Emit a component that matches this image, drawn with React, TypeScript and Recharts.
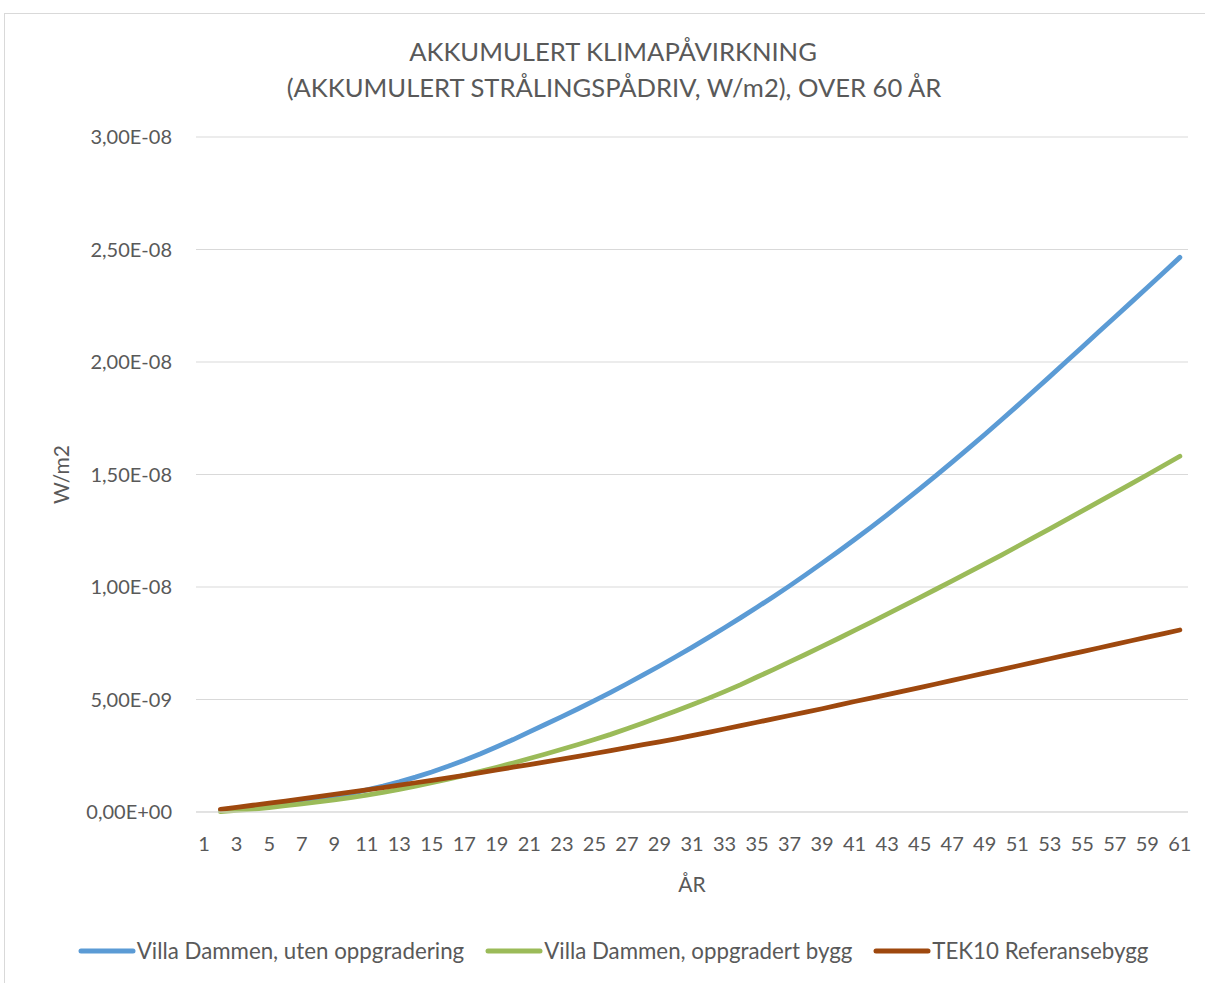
import { LineChart, Line, XAxis, YAxis, CartesianGrid, Legend } from "recharts";

// values are in units of 1e-9 W/m2, year 1 has no value
const years = [
  1, 2, 3, 4, 5, 6, 7, 8, 9, 10, 11, 12, 13, 14, 15, 16, 17, 18, 19, 20, 21,
  22, 23, 24, 25, 26, 27, 28, 29, 30, 31, 32, 33, 34, 35, 36, 37, 38, 39, 40,
  41, 42, 43, 44, 45, 46, 47, 48, 49, 50, 51, 52, 53, 54, 55, 56, 57, 58, 59,
  60, 61,
];

const utenOppgradering = [
  null, 0.05, 0.11, 0.18, 0.26, 0.35, 0.45, 0.56, 0.68, 0.82, 0.98, 1.15,
  1.34, 1.55, 1.78, 2.03, 2.3, 2.59, 2.9, 3.22, 3.56, 3.9, 4.24, 4.59, 4.95,
  5.32, 5.7, 6.09, 6.49, 6.9, 7.32, 7.75, 8.19, 8.64, 9.1, 9.57, 10.05, 10.55,
  11.06, 11.58, 12.11, 12.65, 13.21, 13.78, 14.36, 14.95, 15.55, 16.16, 16.78,
  17.41, 18.05, 18.7, 19.35, 20.01, 20.67, 21.33, 21.99, 22.65, 23.31, 23.98,
  24.65,
];

const oppgradertBygg = [
  null, 0.02, 0.07, 0.13, 0.2, 0.28, 0.36, 0.45, 0.54, 0.64, 0.75, 0.87, 1.01,
  1.15, 1.3, 1.46, 1.63, 1.81, 1.99, 2.18, 2.38, 2.58, 2.79, 3.0, 3.22, 3.45,
  3.7, 3.96, 4.22, 4.49, 4.77, 5.05, 5.35, 5.66, 6.0, 6.33, 6.67, 7.01, 7.36,
  7.71, 8.07, 8.43, 8.79, 9.16, 9.53, 9.9, 10.27, 10.65, 11.03, 11.41, 11.8,
  12.19, 12.58, 12.98, 13.38, 13.78, 14.18, 14.58, 14.99, 15.4, 15.81,
];

const referansebygg = [
  null, 0.12, 0.21, 0.3, 0.39, 0.48, 0.58, 0.68, 0.78, 0.88, 0.98, 1.08, 1.19,
  1.3, 1.41, 1.52, 1.63, 1.75, 1.87, 1.99, 2.11, 2.23, 2.35, 2.47, 2.6, 2.73,
  2.86, 2.99, 3.12, 3.25, 3.39, 3.54, 3.69, 3.84, 3.99, 4.14, 4.29, 4.44, 4.59,
  4.75, 4.91, 5.06, 5.22, 5.37, 5.53, 5.69, 5.85, 6.01, 6.17, 6.33, 6.49, 6.65,
  6.81, 6.97, 7.13, 7.29, 7.45, 7.61, 7.77, 7.93, 8.09,
];

const seriesNames = [
  "Villa Dammen, uten oppgradering",
  "Villa Dammen, oppgradert bygg",
  "TEK10 Referansebygg",
];
const seriesKeys = ["uten", "oppgradert", "tek10"];
const seriesColors = ["#5B9BD5", "#9BBB59", "#9E480E"];

const xTicks = [
  1, 3, 5, 7, 9, 11, 13, 15, 17, 19, 21, 23, 25, 27, 29, 31, 33, 35, 37, 39,
  41, 43, 45, 47, 49, 51, 53, 55, 57, 59, 61,
];
const yTicks = [0, 5e-9, 1e-8, 1.5e-8, 2e-8, 2.5e-8, 3e-8];

const UNIT = 1e-9;
const toW = (v: number | null) => (v == null ? null : v * UNIT);

const data = years.map((year, i) => ({
  year,
  uten: toW(utenOppgradering[i]),
  oppgradert: toW(oppgradertBygg[i]),
  tek10: toW(referansebygg[i]),
}));

const FONT = "Lato, 'Open Sans', sans-serif";
const TEXT = "#595959";
const GRID = "#d9d9d9";

// excel style "2,50E-08"
const sci = (v: number) => {
  if (v === 0) return "0,00E+00";
  const exp = Math.floor(Math.log10(Math.abs(v)) + 1e-9);
  const mant = v / Math.pow(10, exp);
  const e = Math.abs(exp).toString().padStart(2, "0");
  return `${mant.toFixed(2).replace(".", ",")}E${exp < 0 ? "-" : "+"}${e}`;
};

// legend in series order (recharts sorts the payload by name otherwise)
const renderLegend = () => (
  <div
    style={{
      display: "flex",
      justifyContent: "center",
      alignItems: "center",
      gap: 21,
      fontFamily: FONT,
      fontSize: 22.3,
      color: TEXT,
    }}
  >
    {seriesNames.map((name, i) => (
      <div key={name} style={{ display: "flex", alignItems: "center" }}>
        <svg width={58} height={10} style={{ marginRight: 1 }}>
          <line
            x1={3}
            x2={55}
            y1={5}
            y2={5}
            stroke={seriesColors[i]}
            strokeWidth={5}
            strokeLinecap="round"
          />
        </svg>
        <span>{name}</span>
      </div>
    ))}
  </div>
);

const App = () => {
  return (
    <div
      style={{
        position: "absolute",
        left: 0,
        top: 0,
        width: 1205,
        height: 983,
        overflow: "hidden",
        background: "#fff",
      }}
    >
      <div
        style={{
          position: "absolute",
          left: 4,
          top: 13,
          width: 1260,
          height: 1100,
          borderLeft: `1px solid ${GRID}`,
          borderTop: `1px solid ${GRID}`,
        }}
      />
      <svg
        width={1205}
        height={130}
        style={{ position: "absolute", left: 0, top: 0 }}
      >
        <text
          x={613}
          y={61}
          textAnchor="middle"
          fontFamily={FONT}
          fontSize={25.6}
          fill={TEXT}
        >
          AKKUMULERT KLIMAPÅVIRKNING
        </text>
        <text
          x={614}
          y={97}
          textAnchor="middle"
          fontFamily={FONT}
          fontSize={25.6}
          fill={TEXT}
        >
          (AKKUMULERT STRÅLINGSPÅDRIV, W/m2), OVER 60 ÅR
        </text>
      </svg>
      <div style={{ position: "absolute", left: 0, top: 0 }}>
        <LineChart
          width={1205}
          height={983}
          data={data}
          margin={{ top: 137, right: 17, bottom: 111, left: 0 }}
        >
          <CartesianGrid vertical={false} stroke={GRID} strokeWidth={1} />
          <XAxis
            dataKey="year"
            type="number"
            domain={[0.5, 61.5]}
            ticks={xTicks}
            interval={0}
            height={60}
            tickLine={false}
            tickSize={0}
            tickMargin={25}
            axisLine={{ stroke: GRID }}
            tick={{ fontFamily: FONT, fontSize: 20, fill: TEXT }}
            label={{
              content: ({ viewBox }: any) => (
                <text
                  x={viewBox.x + viewBox.width / 2}
                  y={viewBox.y + 80}
                  textAnchor="middle"
                  fontFamily={FONT}
                  fontSize={21}
                  fill={TEXT}
                >
                  ÅR
                </text>
              ),
            }}
          />
          <YAxis
            type="number"
            domain={[0, 3e-8]}
            ticks={yTicks}
            interval={0}
            width={196}
            tickLine={false}
            tickSize={0}
            tickMargin={24}
            axisLine={false}
            tickFormatter={sci}
            tick={{ fontFamily: FONT, fontSize: 20, fill: TEXT }}
            label={{
              content: ({ viewBox }: any) => {
                const cx = viewBox.x + 69;
                const cy = viewBox.y + viewBox.height / 2;
                return (
                  <text
                    x={cx}
                    y={cy}
                    transform={`rotate(-90 ${cx} ${cy})`}
                    textAnchor="middle"
                    fontFamily={FONT}
                    fontSize={21}
                    fill={TEXT}
                  >
                    W/m2
                  </text>
                );
              },
            }}
          />
          <Legend
            content={renderLegend}
            layout="horizontal"
            align="center"
            verticalAlign="middle"
            wrapperStyle={{ top: 937, left: 4, width: 1218 }}
          />
          {seriesKeys.map((key, i) => (
            <Line
              key={key}
              name={seriesNames[i]}
              dataKey={key}
              stroke={seriesColors[i]}
              strokeWidth={4.8}
              strokeLinecap="round"
              dot={false}
              activeDot={false}
              isAnimationActive={false}
            />
          ))}
        </LineChart>
      </div>
    </div>
  );
};

export default App;
